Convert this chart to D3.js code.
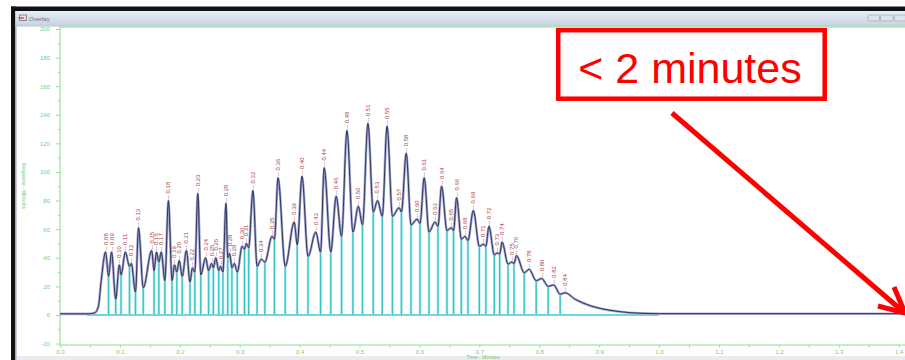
<!DOCTYPE html>
<html>
<head>
<meta charset="utf-8">
<script src="https://cdn.jsdelivr.net/npm/d3@7/dist/d3.min.js"></script>
<style>
  html, body { margin: 0; padding: 0; background: #fff; }
  svg { display: block; font-family: "Liberation Sans", Arial, sans-serif; }
  .axis text { fill: #72d072; font-size: 6px; }
  .axis line { stroke: #96df96; }
  .axis path { display: none; }
</style>
</head>
<body>
<svg width="905" height="360"></svg>
<script>
// tick labels
const xTickLabels = ["0.0", "0.1", "0.2", "0.3", "0.4", "0.5", "0.6", "0.7", "0.8", "0.9", "1.0", "1.1", "1.2", "1.3", "1.4"];
const yTickLabels = ["-20", "0", "20", "40", "60", "80", "100", "120", "140", "160", "180", "200"];

// trace: flat start and the first rise (minutes, millivolts)
const leadT = [0.000, 0.047, 0.058, 0.064, 0.069];
const leadV = [0.8, 0.8, 1.5, 6, 25];

// labelled peaks
const peakT = [0.076, 0.086, 0.099, 0.109, 0.119, 0.131, 0.153, 0.161, 0.169, 0.181,
               0.191, 0.199, 0.211, 0.221, 0.230, 0.243, 0.253, 0.260, 0.268, 0.277,
               0.283, 0.291, 0.304, 0.311, 0.322, 0.336, 0.354, 0.364, 0.391, 0.404,
               0.427, 0.441, 0.461, 0.479, 0.498, 0.514, 0.530, 0.546, 0.566, 0.578,
               0.596, 0.608, 0.626, 0.637, 0.653, 0.662, 0.676, 0.690, 0.707, 0.716,
               0.730, 0.738, 0.754, 0.762, 0.783, 0.804, 0.824, 0.843];
const peakV = [44, 44, 35, 44, 36, 61, 45, 44, 44, 80,
               35, 38, 45, 33, 85, 40, 36, 40, 34, 78,
               43, 36, 48, 50, 87, 39, 55, 96, 65, 97,
               58, 103, 83, 129, 76, 134, 80, 132, 75, 113,
               67, 96, 65, 90, 61, 82, 55, 73, 49.5, 62,
               43.5, 51, 37, 41.5, 32, 25.5, 21, 15.5];

// valleys between peaks (integration drop lines)
const valleyT = [0.081, 0.093, 0.102, 0.116, 0.126, 0.139, 0.157, 0.165, 0.175, 0.187,
                 0.195, 0.204, 0.217, 0.225, 0.235, 0.248, 0.256, 0.265, 0.272, 0.280,
                 0.287, 0.296, 0.308, 0.315, 0.329, 0.342, 0.358, 0.376, 0.396, 0.414,
                 0.435, 0.452, 0.470, 0.489, 0.505, 0.523, 0.538, 0.555, 0.570, 0.586,
                 0.601, 0.616, 0.631, 0.646, 0.657, 0.670, 0.681, 0.700, 0.711, 0.725,
                 0.734, 0.748, 0.758, 0.775, 0.795, 0.815, 0.835];
const valleyV = [27, 11, 28, 34, 16, 19, 31, 37, 24, 24,
                 30, 27, 23, 30, 28, 31, 33, 31, 30, 40,
                 33, 30, 46, 47, 34, 37, 53, 34, 49, 41,
                 44, 44, 55, 58, 63, 72, 69, 69, 72, 63,
                 64, 58, 62, 59, 59, 53, 52, 48, 48, 42,
                 42.5, 35.5, 36, 29.5, 24, 20, 14.5];

// tail back to baseline
const tailT = [0.860, 0.885, 0.902, 0.935, 0.968, 1.002, 1.420];
const tailV = [11, 6.5, 4.6, 2.3, 1.2, 0.9, 0.9];

const svg = d3.select("svg");

// ---- window chrome ----
svg.append("rect").attr("width", 905).attr("height", 360).attr("fill", "#fff");
svg.append("rect").attr("x", 11).attr("y", 6.5).attr("width", 894).attr("height", 4.5).attr("fill", "#111");
svg.append("rect").attr("x", 11).attr("y", 6.5).attr("width", 4.5).attr("height", 354).attr("fill", "#111");
svg.append("rect").attr("x", 15.5).attr("y", 11).attr("width", 1.5).attr("height", 349).attr("fill", "#c6d0dc");

const grad = svg.append("defs").append("linearGradient")
    .attr("id", "titlebar").attr("x1", 0).attr("y1", 0).attr("x2", 0).attr("y2", 1);
grad.append("stop").attr("offset", "0%").attr("stop-color", "#e8eef5");
grad.append("stop").attr("offset", "100%").attr("stop-color", "#c6d3e2");
svg.append("rect").attr("x", 15.5).attr("y", 11).attr("width", 890).attr("height", 15).attr("fill", "url(#titlebar)");
svg.append("line").attr("x1", 15.5).attr("x2", 905).attr("y1", 26).attr("y2", 26).attr("stroke", "#b9c6d4");

// title icon + text
svg.append("rect").attr("x", 19.5).attr("y", 15).attr("width", 7).attr("height", 5.5)
    .attr("fill", "none").attr("stroke", "#777").attr("stroke-width", 0.8);
svg.append("line").attr("x1", 18.5).attr("x2", 24).attr("y1", 18).attr("y2", 18)
    .attr("stroke", "#d03030").attr("stroke-width", 1.2);
svg.append("text").attr("x", 29).attr("y", 20.5).attr("font-size", 6).attr("fill", "#707070").text("Overlay");

// title bar buttons
[[868, 11.5], [880.5, 12.5], [894.5, 11]].forEach(b => {
  svg.append("rect").attr("x", b[0]).attr("y", 15).attr("width", b[1]).attr("height", 6)
      .attr("rx", 1).attr("fill", "#dde3ea").attr("stroke", "#9ea9b6").attr("stroke-width", 0.7);
});

// status band at the bottom
svg.append("rect").attr("x", 17).attr("y", 356).attr("width", 888).attr("height", 4).attr("fill", "#ebebee");

// ---- scales ----
const x = d3.scaleLinear().domain([0, 1.4]).range([60, 898.6]);
const y = d3.scaleLinear().domain([-21, 201.4]).range([345, 27]);

// plot frame
svg.append("rect").attr("x", 60).attr("y", 27).attr("width", 860).attr("height", 318)
    .attr("fill", "none").attr("stroke", "#9fe39f").attr("stroke-width", 1.2);

// axes
const xMajor = xTickLabels.map(Number);
const xAll = xMajor.concat(xMajor.slice(0, -1).map(d => d + 0.05)).sort((a, b) => a - b);
const gx = svg.append("g").attr("class", "axis").attr("transform", "translate(0,345)")
    .call(d3.axisBottom(x).tickValues(xAll).tickSize(2.5).tickPadding(2)
      .tickFormat(d => {
        const i = xMajor.findIndex(m => Math.abs(m - d) < 1e-6);
        return i >= 0 ? xTickLabels[i] : "";
      }));

const yMajor = yTickLabels.map(Number);
const yAll = yMajor.concat(yMajor.slice(0, -1).map(d => d + 10)).sort((a, b) => a - b);
const gy = svg.append("g").attr("class", "axis").attr("transform", "translate(60,0)")
    .call(d3.axisLeft(y).tickValues(yAll).tickSize(4).tickPadding(6)
      .tickFormat(d => {
        const i = yMajor.indexOf(d);
        return i >= 0 ? yTickLabels[i] : "";
      }));
gy.selectAll(".tick").filter(d => yMajor.indexOf(d) < 0).select("line").attr("x2", -2);

svg.append("text")
    .attr("transform", "translate(22," + 186 + ") rotate(90)")
    .attr("text-anchor", "middle").attr("font-size", 5).attr("fill", "#6ccc6c")
    .text("Response - Millivolts");
svg.append("text")
    .attr("x", 483).attr("y", 359).attr("text-anchor", "middle")
    .attr("font-size", 5).attr("fill", "#6ccc6c").text("Time - Minutes");

// ---- chromatogram ----
const peaks = peakT.map((t, i) => [t, peakV[i]]);
const valleys = valleyT.map((t, i) => [t, valleyV[i]]);
const pts = leadT.map((t, i) => [t, leadV[i]])
    .concat(peaks, valleys, tailT.map((t, i) => [t, tailV[i]]))
    .sort((a, b) => a[0] - b[0]);

const plot = svg.append("g");

// integration baseline
plot.append("line")
    .attr("x1", x(0.045)).attr("x2", x(1.0)).attr("y1", y(0)).attr("y2", y(0))
    .attr("stroke", "#3fcaca").attr("stroke-width", 1.4);

// drop lines at valleys
plot.selectAll(".drop-halo").data(valleys).join("line")
    .attr("class", "drop-halo")
    .attr("x1", d => x(d[0])).attr("x2", d => x(d[0]))
    .attr("y1", y(0)).attr("y2", d => y(d[1]))
    .attr("stroke", "#b2eeee").attr("stroke-width", 2.6);
plot.selectAll(".drop").data(valleys).join("line")
    .attr("class", "drop")
    .attr("x1", d => x(d[0])).attr("x2", d => x(d[0]))
    .attr("y1", y(0)).attr("y2", d => y(d[1]))
    .attr("stroke", "#36c4c4").attr("stroke-width", 1.3);

const line = d3.line()
    .x(d => x(d[0]))
    .y(d => y(d[1]))
    .curve(d3.curveMonotoneX);

plot.append("path").datum(pts).attr("d", line)
    .attr("fill", "none").attr("stroke", "#b4aedc").attr("stroke-width", 2.6).attr("stroke-linejoin", "round");
plot.append("path").datum(pts).attr("d", line)
    .attr("fill", "none").attr("stroke", "#4f9c70").attr("stroke-width", 1.3).attr("opacity", 0.4)
    .attr("transform", "translate(0.4,0)");
plot.append("path").datum(pts).attr("d", line)
    .attr("fill", "none").attr("stroke", "#2a2d5e").attr("stroke-width", 0.95).attr("stroke-linejoin", "round");

// retention time labels
plot.selectAll(".rt").data(peaks).join("text")
    .attr("class", "rt")
    .attr("transform", d => "translate(" + (x(d[0]) + 2) + "," + (y(d[1]) - 1.5) + ") rotate(-90)")
    .attr("font-size", 6)
    .attr("fill", "#a4454c")
    .text(d => "-- " + d[0].toFixed(2));

// ---- annotation ----
svg.append("rect").attr("x", 558.2).attr("y", 30.2).attr("width", 266.5).attr("height", 68.5)
    .attr("fill", "#fff").attr("stroke", "#ff0000").attr("stroke-width", 4.5);
svg.append("text").attr("x", 690).attr("y", 83).attr("text-anchor", "middle")
    .attr("font-size", 43).attr("fill", "#ff0000").text("< 2 minutes");

const arrow = svg.append("g").attr("stroke", "#ff0000").attr("stroke-width", 5).attr("fill", "none");
arrow.append("line").attr("x1", 672).attr("y1", 113).attr("x2", 903).attr("y2", 311.5);
arrow.append("polyline").attr("points", "894,287 905,313 878,306")
    .attr("stroke-linejoin", "miter");
</script>
</body>
</html>
